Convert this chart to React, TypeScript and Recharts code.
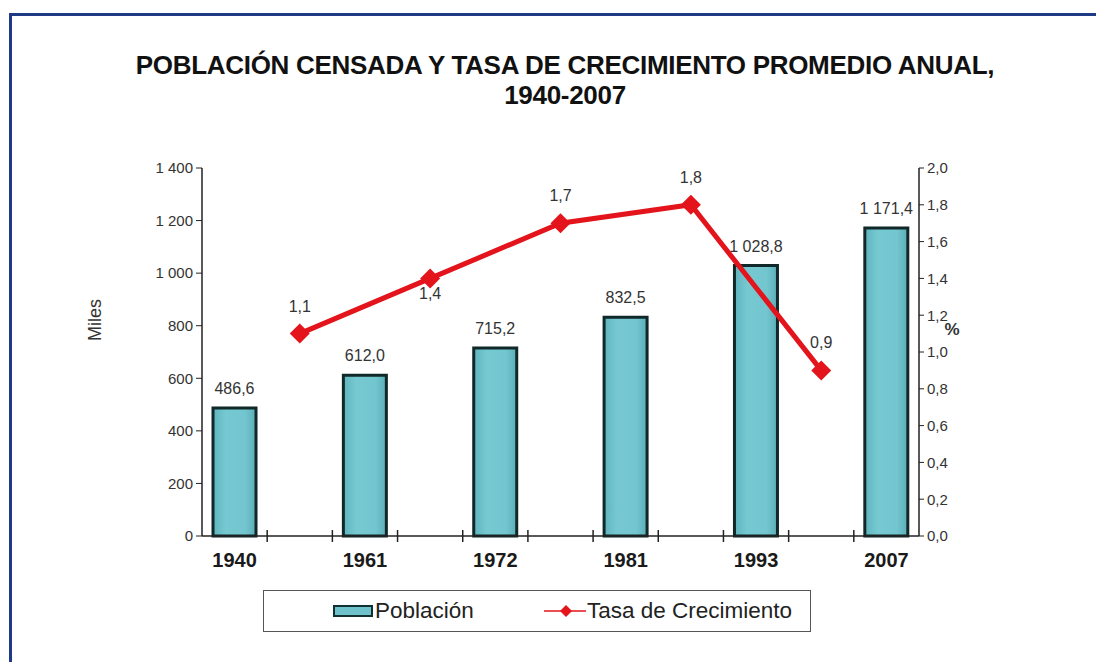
import React from "react"
import {
  ComposedChart,
  Bar,
  Line,
  XAxis,
  YAxis,
  LabelList,
} from "recharts"

// censos y tasas (las tasas caen entre dos censos)
const years = ["1940", "1961", "1972", "1981", "1993", "2007"]
const population = [486.6, 612.0, 715.2, 832.5, 1028.8, 1171.4]
const growthRate = [1.1, 1.4, 1.7, 1.8, 0.9]
const leftTicks = [0, 200, 400, 600, 800, 1000, 1200, 1400]
const rightTicks = [0, 0.2, 0.4, 0.6, 0.8, 1.0, 1.2, 1.4, 1.6, 1.8, 2.0]

const FONT = "'Liberation Sans', Arial, sans-serif"
const RED = "#E3141B"

// 11 categorías: censos en las pares, tasas en las impares
const rows = Array.from({ length: years.length * 2 - 1 }, (_, k) => ({
  x: k + 0.5,
  year: k % 2 === 0 ? years[k / 2] : null,
  pop: k % 2 === 0 ? population[k / 2] : null,
  rate: k % 2 === 1 ? growthRate[(k - 1) / 2] : null,
}))

const xTicks = [
  ...rows.filter((r) => r.year).map((r) => r.x),
  ...rows.slice(1).map((r) => r.x - 0.5),
].sort((a, b) => a - b)

const fmtMiles = (v: number) =>
  v.toFixed(1).replace(".", ",").replace(/\B(?=(\d{3})+(?!\d))/g, " ")
const fmtInt = (v: number) => String(v).replace(/\B(?=(\d{3})+(?!\d))/g, " ")
const fmtPct = (v: number) => v.toFixed(1).replace(".", ",")

const XTick = (props: any) => {
  const { x, y, payload } = props
  const v = payload.value
  if (Number.isInteger(v)) {
    return <line x1={x} x2={x} y1={y - 6} y2={y + 6} stroke="#222" strokeWidth={1.5} />
  }
  const row = rows.find((r) => r.x === v)
  return (
    <text x={x} y={y + 31} textAnchor="middle" fontSize={20} fontWeight="bold" fill="#1a1a1a" fontFamily={FONT}>
      {row?.year}
    </text>
  )
}

const Diamond = (props: any) => {
  const { cx, cy, value } = props
  if (value == null || cy == null) return null
  const s = 10
  return (
    <polygon
      key={`d-${cx}`}
      points={`${cx},${cy - s} ${cx + s},${cy} ${cx},${cy + s} ${cx - s},${cy}`}
      fill={RED}
    />
  )
}

const BarValue = (props: any) => {
  const { x, y, width, value } = props
  if (value == null) return null
  return (
    <text x={x + width / 2} y={y - 14} textAnchor="middle" fontSize={16} fill="#333" fontFamily={FONT}>
      {fmtMiles(value)}
    </text>
  )
}

const RateValue = (props: any) => {
  const { x, y, value, index } = props
  if (value == null) return null
  const dy = index === 3 ? 21 : -22
  return (
    <text x={x} y={y + dy} textAnchor="middle" fontSize={16} fill="#333" fontFamily={FONT}>
      {fmtPct(value)}
    </text>
  )
}

export default function App() {
  return (
    <div style={{ position: "absolute", left: 0, top: 0, width: 1096, height: 662, overflow: "hidden", background: "#fff", fontFamily: FONT }}>
      <div style={{ position: "absolute", left: 9, top: 13, width: 1200, height: 800, borderLeft: "3px solid #1F3A84", borderTop: "3px solid #1F3A84" }} />
      <div style={{ position: "absolute", left: 0, top: 50, width: 1130, textAlign: "center", fontSize: 26, fontWeight: "bold", lineHeight: "30px", color: "#111", letterSpacing: -0.3 }}>
        POBLACIÓN CENSADA Y TASA DE CRECIMIENTO PROMEDIO ANUAL,
        <br />
        1940-2007
      </div>

      <div style={{ position: "absolute", left: 0, top: 0 }}>
        <ComposedChart
          width={1096}
          height={662}
          data={rows}
          margin={{ top: 168, right: 107, bottom: 86, left: 102 }}
        >
          <defs>
            <linearGradient id="barFill" x1="0" y1="0" x2="1" y2="0">
              <stop offset="0%" stopColor="#5FB4BE" />
              <stop offset="30%" stopColor="#76C9D1" />
              <stop offset="75%" stopColor="#73C6CF" />
              <stop offset="100%" stopColor="#5AAEB8" />
            </linearGradient>
          </defs>
          <XAxis
            dataKey="x"
            type="number"
            domain={[0, rows.length]}
            ticks={xTicks}
            interval={0}
            tick={<XTick />}
            tickLine={false}
            tickSize={0}
            tickMargin={0}
            height={40}
            axisLine={{ stroke: "#222", strokeWidth: 1.5 }}
          />
          <YAxis
            yAxisId="left"
            domain={[0, 1400]}
            ticks={leftTicks}
            width={100}
            tickFormatter={fmtInt}
            tick={{ fontSize: 15, fill: "#333", fontFamily: FONT }}
            tickSize={6}
            tickMargin={3}
            axisLine={{ stroke: "#222", strokeWidth: 1.5 }}
            tickLine={{ stroke: "#222" }}
          />
          <YAxis
            yAxisId="right"
            orientation="right"
            domain={[0, 2]}
            ticks={rightTicks}
            width={70}
            tickFormatter={fmtPct}
            tick={{ fontSize: 15, fill: "#333", fontFamily: FONT }}
            tickSize={5}
            tickMargin={3}
            axisLine={{ stroke: "#222", strokeWidth: 1.5 }}
            tickLine={{ stroke: "#222" }}
          />
          <Bar
            yAxisId="left"
            dataKey="pop"
            barSize={43}
            fill="url(#barFill)"
            stroke="#112828"
            strokeWidth={3}
            isAnimationActive={false}
          >
            <LabelList dataKey="pop" content={<BarValue />} />
          </Bar>
          <Line
            yAxisId="right"
            dataKey="rate"
            stroke={RED}
            strokeWidth={5}
            connectNulls
            dot={<Diamond />}
            activeDot={false}
            isAnimationActive={false}
          >
            <LabelList dataKey="rate" content={<RateValue />} />
          </Line>
        </ComposedChart>
      </div>

      <div style={{ position: "absolute", left: 95, top: 320, transform: "translate(-50%, -50%) rotate(-90deg)", fontSize: 18, color: "#333" }}>
        Miles
      </div>
      <div style={{ position: "absolute", left: 952, top: 330, transform: "translate(-50%, -50%)", fontSize: 17, fontWeight: "bold", color: "#333" }}>
        %
      </div>

      <div style={{ position: "absolute", left: 263, top: 590, width: 548, height: 42, border: "1.5px solid #555", boxSizing: "border-box" }}>
        <div style={{ position: "absolute", left: 69, top: 14, width: 40, height: 12, background: "#6FC2CB", border: "2px solid #133030", boxSizing: "border-box" }} />
        <div style={{ position: "absolute", left: 111, top: 7, fontSize: 22.5, lineHeight: "26px", color: "#222" }}>Población</div>
        <svg style={{ position: "absolute", left: 280, top: 12, width: 42, height: 16 }}>
          <line x1={0} x2={42} y1={8} y2={8} stroke={RED} strokeWidth={1.5} />
          <polygon points="22,2 28,8 22,14 16,8" fill={RED} />
        </svg>
        <div style={{ position: "absolute", left: 323, top: 7, fontSize: 22.5, lineHeight: "26px", color: "#222" }}>Tasa de Crecimiento</div>
      </div>
    </div>
  )
}
